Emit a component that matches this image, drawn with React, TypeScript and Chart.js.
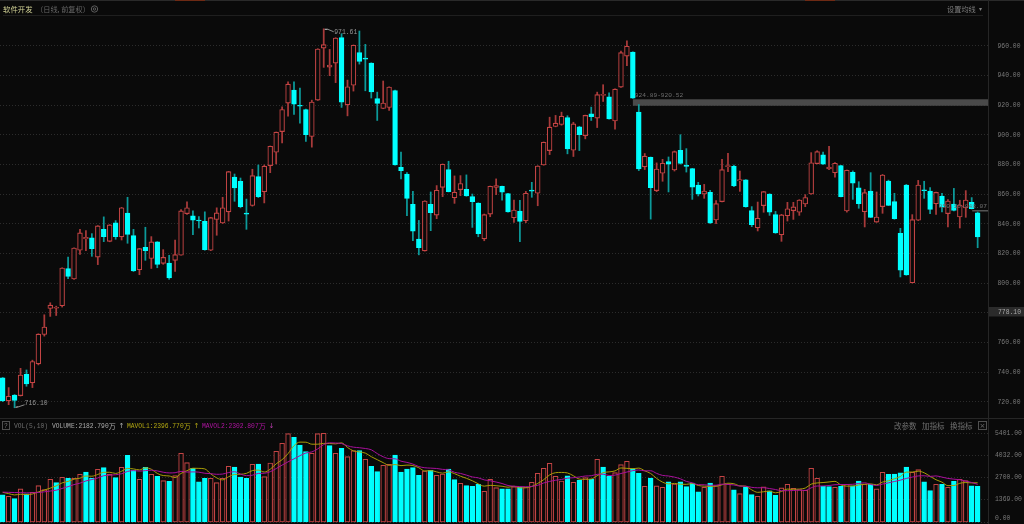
import React, { useEffect, useRef } from "react";
import { Chart, registerables } from "chart.js";

Chart.register(...registerables);

// Daily candles: open / close / high / low
const open = [736.2,720.9,724.7,724.3,738.7,733,745.7,765.5,783,783.2,784.9,809.9,802.9,822.3,829.9,830.6,817.7,836.4,828.3,840.7,831.3,847.3,832.2,809.2,824.3,816.8,827.9,813.5,813.7,815.5,818.9,847,845.5,842.2,841.8,822.3,843,840.7,848.2,871.7,868.8,847,852.5,871.9,861.8,879.4,888.4,902.3,921.5,930.3,919.6,917.2,899,923.5,958.6,945.8,948.5,965.6,920.4,933.6,955.5,951.3,948.5,924.6,917.9,918.6,930,878.2,873.7,853.2,829.8,821.9,853.2,846,864.7,876.7,857.7,863.2,863.4,858.4,854.1,830,846.7,864.7,865.4,860.5,844.2,848.7,842.2,862.4,860.7,879.8,889.5,905.7,907.1,911.8,889.7,905.5,899.6,914.3,911.4,926.7,925.8,909.5,932.3,953.2,955.9,915.4,878.5,885,862.5,874.2,882,876.4,889.7,879,877.3,866.3,860.2,861.3,842.7,855.1,878.7,878.9,869,869.7,849,837.5,852.4,860.2,846.3,832.8,845.6,849,847.9,853.5,860.2,880.7,886.7,877.1,874.6,879.3,848.8,874.8,864.3,848.3,862.2,841.3,851.7,869,855.1,833.7,866.3,800.4,842.5,862.6,862.2,853.7,858.9,847,853.5,844.7,850.8,854.6,847.6];
const close = [720.9,723.8,721.1,738.2,732.2,747.3,765.7,770.5,785.3,783.5,810.3,804.7,823.8,834,831,823.4,838.7,831.5,839.4,831.5,850.9,833,808.3,823.4,822,827.9,812.8,817.5,803.6,819.3,848.8,850.9,842.5,842,822.7,844.3,847.5,850.9,875.3,864.3,851.7,846.6,872.6,858.5,878.9,892.4,901.9,917.2,934.3,920.8,919.4,900.3,922.2,958,960.9,947.2,965.4,922.2,932.5,960.5,949.6,951.1,929.1,921.3,921.5,932.3,879.8,876,857.3,835.2,824,855.5,847.6,862.7,880.3,861.8,861.4,867.3,858.9,855,833.4,846.3,865.4,865.9,861.4,848.1,849.4,841.8,860.7,862.2,879.1,895.1,905.3,908,912.7,890.6,907.5,900.3,913.2,912.3,927.2,927,910.9,930.9,955.5,959.8,924.89,877.1,885.7,864.5,877.1,880.9,880.4,888.8,880.9,878.8,864.9,860.2,862.2,840.7,853.7,876.6,879.3,865.6,869.9,851.7,839.6,843.8,861.8,847.9,833.9,846.1,850.3,851.5,856.2,857.8,881.3,888.8,880.4,878.4,880.9,858.4,876.2,867.6,853.7,861.1,844.5,844.7,873,852.6,843.6,808.8,805.6,842.9,866.3,862.4,849.9,861.3,851.7,855.5,849.2,852.8,856.2,850.3,831.2];
const high = [736.5,729.7,725,742.7,741.6,748.2,766,778.8,786.9,784.6,810.5,817.7,824,836.4,835.5,833.5,838.9,844.8,839.6,842.3,851.2,858,836.4,823.6,837.8,831.5,828.1,822.7,818.9,829.2,849.7,854.9,848.8,845,848.2,844.5,850.9,858,875.5,873.7,871,856.8,876.9,879.8,879.8,892.6,902,919,935.9,935.9,931.6,917.4,923.5,958.2,971.61,957.7,965.6,968.3,937,960.7,970.1,961.1,948.7,928.9,936.4,932.5,930.2,888.4,874.6,862,842.4,855.7,861.6,865.9,880.5,882.3,872.4,872.6,873.1,860.2,854.3,846.7,865.6,870.4,865.6,860.7,856.2,855.9,862,868.1,879.3,895.3,912,913.2,915.4,913,908.6,905.9,913.4,918.8,928.9,933.9,928.5,931.1,956.6,963.4,956.1,920.52,887.5,885.2,881.2,883.6,885.2,889.2,900.2,890.8,877.5,868.1,866.7,862.7,855.7,883.6,887.6,879.8,875.7,869.9,851.7,854.8,862,860.4,848.5,846.5,854.6,854.6,856.4,859.8,888.1,889.4,888.5,892.4,881.4,879.5,876.4,875.8,868.5,863.4,874.6,861.6,873.4,869.6,860.7,837.1,866.7,846.3,869.4,868.8,864.5,861.5,860.7,856.4,864,856,862.5,857.8,848.07];
const low = [720.2,718.2,716.1,724,730.6,729.7,745,764.4,777.7,778.3,784,803.1,802.7,819.5,822,818.2,812.6,828.1,828,829.7,829.2,827,808,805.8,815.5,810,810.5,812.8,802.7,808,818.9,846.4,832.8,837.3,822.3,822,832.4,840.3,842,855.3,850.9,836.4,852,857.8,854.2,874.6,880.5,894.7,912.7,913.8,908,895.6,891.8,923.3,945.6,940,935.3,918.6,912.9,929.6,947.8,929.8,924.9,909.8,917.7,916.5,879.6,870.4,845.6,828.7,819.2,821.7,835.5,843.6,858.4,861.6,853.9,859.1,858.7,837.7,831.4,828.7,844.9,859.8,856,847.9,841,828,840.9,858,852.3,879.6,886.8,905.5,906.6,887.3,885.5,889.5,897.4,909.8,905,922.6,910.7,903.9,932.1,946.7,924.7,876,876.7,843.3,861.8,868.8,861.6,875.7,880.4,875,856.6,858.9,857.3,840.3,840.2,854.9,875.3,865.2,862,851.3,838.2,835.3,847.9,845.8,833.7,828.3,842,843.1,845.8,851.7,860,880.5,880.2,876.6,871.5,858.2,848,856.6,850.6,838,844.3,841.1,847.2,852.4,843.2,804.3,805.4,800.2,842.3,857.3,847,846.5,848.1,838,848.8,837.3,844.5,850.1,824];

// Volume and its two moving averages (万)
const volume = [1663,1583,1442,2025,1723,1824,2226,1985,2608,2407,2728,2668,2668,2909,3050,2668,3211,3311,2909,2708,3331,4055,3170,2608,3331,2909,2789,2527,2487,2829,4175,3613,3271,2447,2668,2668,2407,2668,3392,3351,2748,2668,3512,3532,2768,3593,4296,4778,5361,5140,4678,4276,4175,5361,5381,4638,4175,4477,3975,4336,4336,3814,3392,3070,3452,3512,4075,3050,3231,3311,2849,3110,3150,2849,2929,3231,2588,2366,2226,2186,2306,1884,2608,2105,2025,2025,2165,2125,2125,2427,2969,3271,3572,2789,2507,2809,2427,2567,2708,2608,3814,3351,2789,3010,3492,3693,3251,2969,2186,2688,2206,2125,2447,2326,2447,2165,2386,1844,2125,2386,2226,2789,2326,1964,1743,2125,1683,1583,2145,1904,1643,2085,2306,2065,1985,1944,3271,2668,2186,2165,2125,2186,2306,2206,2507,2326,2306,2025,3030,2909,2929,2990,3351,3030,3191,2447,1924,2306,2306,2125,2487,2608,2527,2206,2182.79];
const mavol1 = [1820,1743,1663,1703,1687,1719,1848,1957,2073,2210,2391,2479,2616,2676,2805,2793,2901,3030,3030,2961,3094,3263,3235,3174,3299,3215,2961,2833,2809,2708,2961,3126,3275,3267,3235,2933,2692,2572,2761,2897,2913,2965,3134,3162,3046,3215,3540,3793,4159,4634,4851,4847,4726,4726,4774,4766,4746,4806,4529,4320,4260,4188,3971,3790,3613,3448,3500,3432,3464,3436,3303,3110,3130,3054,2977,3054,2949,2793,2668,2519,2334,2194,2242,2218,2186,2129,2186,2089,2093,2173,2362,2583,2873,3006,3022,2990,2821,2620,2604,2624,2825,3010,3054,3114,3291,3267,3247,3283,3118,2957,2660,2435,2330,2358,2310,2302,2354,2234,2193,2181,2193,2274,2370,2338,2210,2189,1968,1820,1856,1888,1792,1872,2017,2001,2017,2077,2314,2387,2411,2447,2483,2266,2194,2198,2266,2306,2330,2274,2439,2519,2640,2777,3042,3042,3098,3002,2789,2580,2435,2222,2230,2366,2411,2391,2396.77];
const mavol2 = [1830,1820,1810,1800,1790,1790,1810,1850,1900,1949,2055,2164,2287,2375,2508,2592,2690,2823,2853,2883,2944,3082,3133,3102,3130,3155,3112,3034,2992,3004,3088,3044,3054,3038,2972,2947,2909,2924,3014,3066,2923,2829,2853,2962,2972,3064,3253,3464,3661,3840,4033,4194,4260,4443,4704,4809,4797,4766,4628,4547,4513,4467,4389,4160,3967,3854,3844,3702,3627,3525,3376,3305,3281,3259,3207,3179,3030,2962,2861,2748,2694,2572,2518,2443,2353,2232,2190,2166,2156,2180,2246,2385,2481,2550,2598,2676,2702,2747,2805,2823,2908,2916,2837,2859,2958,3046,3129,3169,3116,3124,2964,2841,2807,2738,2634,2481,2395,2282,2276,2246,2248,2314,2302,2266,2196,2191,2121,2095,2097,2049,1991,1920,1919,1929,1953,1935,2093,2202,2206,2232,2280,2290,2291,2305,2357,2395,2298,2234,2319,2393,2473,2554,2658,2741,2809,2821,2783,2811,2739,2660,2616,2578,2496,2413,2302.807];

const priceTickHidden = [780];
const volTicks = [0, 1369, 2700, 4032, 5401];
const hiLabel = "971.61";
const loLabel = "716.10";
const gapLabelA = "924.89-920.52";
const gapLabelB = "850.10-848.07";
const lastLabel = "778.10";

const BG = "#0a0a0a";
const RED = "#c44444";
const REDW = "#a83a3a";
const CYAN = "#00ffff";
const CYANW = "#0c9a9a";
const GRID = "#2c2c2c";
const AXISTXT = "#7a7a7a";
const LINE = "#1f1f1f";
const MONO = '"Liberation Mono","DejaVu Sans Mono",monospace';
const CJK = '"Noto Sans CJK SC"';

const idx = open.map((_, i) => i);
const xMin = -0.454;
const xMax = 165.74;

function txt(ctx: CanvasRenderingContext2D, s: string, x: number, y: number, color: string, font: string, align: CanvasTextAlign = "left") {
  ctx.font = font;
  ctx.fillStyle = color;
  ctx.textAlign = align;
  ctx.textBaseline = "middle";
  ctx.fillText(s, x, y);
  return ctx.measureText(s).width;
}

const fitAxis = (s: any) => {
  s.width = 36;
  s.paddingTop = 0;
  s.paddingBottom = 0;
};

const topPlugin = {
  id: "topDeco",
  beforeDraw(chart: any) {
    const c = chart.ctx as CanvasRenderingContext2D;
    c.save();
    c.fillStyle = BG;
    c.fillRect(0, 0, chart.width, chart.height);
    c.fillStyle = "#2a2a2a";
    c.fillRect(0, 0, 1024, 1);
    c.fillStyle = "#6e2a14";
    c.fillRect(175, 0, 30, 1);
    c.fillRect(805, 0, 30, 1);
    c.fillStyle = LINE;
    c.fillRect(3, 15, 980, 1);
    c.restore();
  },
  beforeDatasetsDraw(chart: any) {
    const c = chart.ctx as CanvasRenderingContext2D;
    const { x, y } = chart.scales;
    const right = chart.chartArea.right;
    c.save();
    c.fillStyle = "#4a4a4a";
    const a1 = y.getPixelForValue(close[106]);
    const a2 = y.getPixelForValue(high[107]);
    c.fillRect(x.getPixelForValue(106), a1 + 1.2, right - x.getPixelForValue(106), a2 - a1);
    c.fillStyle = "#555";
    const b1 = y.getPixelForValue(low[163]);
    const b2 = y.getPixelForValue(high[164]);
    c.fillRect(x.getPixelForValue(163) + 0.5, b1 + 1, right - x.getPixelForValue(163), Math.max(1, b2 - b1 - 1.5));
    c.restore();
  },
  afterDraw(chart: any) {
    const c = chart.ctx as CanvasRenderingContext2D;
    const { x, y } = chart.scales;
    c.save();
    c.fillStyle = "#262626";
    c.fillRect(988, 0, 1, 418);
    txt(c, "软件开发", 3, 9, "#d2d296", `7.4px ${CJK}`);
    txt(c, "（日线, 前复权）", 36, 9, "#666666", `7.2px ${CJK}`);
    c.strokeStyle = "#5c5c5c";
    c.lineWidth = 1;
    c.beginPath();
    c.arc(94.5, 9, 3.2, 0, Math.PI * 2);
    c.stroke();
    c.beginPath();
    c.arc(94.5, 9, 1.2, 0, Math.PI * 2);
    c.stroke();
    txt(c, "设置均线", 947, 9, "#7e7e7e", `7.2px ${CJK}`);
    txt(c, "▾", 979, 9, "#7e7e7e", `6px "DejaVu Sans"`);

    // high / low markers follow the scales
    const hx = x.getPixelForValue(54);
    const hy = y.getPixelForValue(high[54]);
    c.strokeStyle = "#d0d0d0";
    c.beginPath();
    c.moveTo(hx + 1, hy + 0.5);
    c.lineTo(hx + 4, hy + 0.5);
    c.stroke();
    c.strokeStyle = "#8a8a8a";
    c.beginPath();
    c.moveTo(hx + 4, hy + 0.5);
    c.lineTo(hx + 10, hy + 3);
    c.stroke();
    txt(c, hiLabel, hx + 10.5, hy + 3.5, "#969696", `6.4px ${MONO}`);

    const lx = x.getPixelForValue(2);
    const ly = y.getPixelForValue(low[2]);
    c.strokeStyle = "#d0d0d0";
    c.beginPath();
    c.moveTo(lx + 1, ly - 0.5);
    c.lineTo(lx + 4, ly - 1);
    c.stroke();
    c.strokeStyle = "#8a8a8a";
    c.beginPath();
    c.moveTo(lx + 4, ly - 1);
    c.lineTo(lx + 10, ly - 3);
    c.stroke();
    txt(c, loLabel, lx + 10, ly - 4, "#969696", `6.4px ${MONO}`);

    txt(c, gapLabelA, x.getPixelForValue(106) + 2, y.getPixelForValue(close[106]) - 3, "#6e6e6e", `6.2px ${MONO}`);
    txt(c, gapLabelB, 987, y.getPixelForValue(low[163]) - 3, "#727272", `6.2px ${MONO}`, "right");

    c.fillStyle = "#2b2b2b";
    c.fillRect(989, 307, 35, 9.5);
    txt(c, lastLabel, 998, 312, "#a8a8a8", `6.4px ${MONO}`);
    c.restore();
  },
};

const volPlugin = {
  id: "volDeco",
  beforeDraw(chart: any) {
    const c = chart.ctx as CanvasRenderingContext2D;
    c.save();
    c.fillStyle = BG;
    c.fillRect(0, 0, chart.width, chart.height);
    c.restore();
  },
  afterDraw(chart: any) {
    const c = chart.ctx as CanvasRenderingContext2D;
    c.save();
    c.fillStyle = "#262626";
    c.fillRect(0, 0, 1024, 1);
    c.fillRect(988, 0, 1, 106);
    const ty = 8;
    const num = `6.3px ${MONO}`;
    const cjk = `7px ${CJK}`;
    c.strokeStyle = "#505050";
    c.lineWidth = 1;
    c.strokeRect(2.5, 3.5, 7, 8);
    txt(c, "?", 6, ty, "#777", num, "center");
    txt(c, "VOL(5,10)", 14, ty, "#6e6e6e", num);
    let w = txt(c, `VOLUME:${volume[164].toFixed(3)}`, 52, ty, "#aaaaaa", num);
    txt(c, "万", 52 + w, ty, "#aaaaaa", cjk);
    txt(c, "↑", 118.5, ty, "#b5b5b5", `7px "DejaVu Sans"`);
    w = txt(c, `MAVOL1:${mavol1[164].toFixed(3)}`, 127, ty, "#b0a612", num);
    txt(c, "万", 127 + w, ty, "#b0a612", cjk);
    txt(c, "↑", 193.5, ty, "#b5a814", `7px "DejaVu Sans"`);
    w = txt(c, `MAVOL2:${mavol2[164].toFixed(3)}`, 202, ty, "#b014a2", num);
    txt(c, "万", 202 + w, ty, "#b014a2", cjk);
    txt(c, "↓", 268.5, ty, "#b43ca8", `7px "DejaVu Sans"`);
    txt(c, "改参数", 894, ty, "#707070", `7.5px ${CJK}`);
    txt(c, "加指标", 922, ty, "#707070", `7.5px ${CJK}`);
    txt(c, "换指标", 950, ty, "#707070", `7.5px ${CJK}`);
    c.strokeStyle = "#505050";
    c.strokeRect(978.5, 3.5, 8, 8);
    txt(c, "×", 982.5, ty, "#707070", `7px "DejaVu Sans"`, "center");
    txt(c, "0.00", 995, 100, AXISTXT, `6.4px ${MONO}`);
    c.restore();
  },
};

export default function App() {
  const topRef = useRef<HTMLCanvasElement>(null);
  const volRef = useRef<HTMLCanvasElement>(null);

  useEffect(() => {
    const isUp = (i: number) => close[i] >= open[i];
    const price = new Chart(topRef.current as HTMLCanvasElement, {
      type: "bar",
      data: {
        datasets: [
          {
            data: idx.map((i) => ({ x: i, y: [low[i], high[i]] })),
            backgroundColor: idx.map((i) => (isUp(i) ? REDW : CYANW)),
            borderWidth: 0,
            barThickness: 1.1,
            grouped: false,
            order: 2,
          },
          {
            data: idx.map((i) => ({ x: i, y: [open[i], close[i]] })),
            backgroundColor: idx.map((i) => (isUp(i) ? BG : CYAN)),
            borderColor: idx.map((i) => (isUp(i) ? RED : CYAN)),
            borderWidth: 1.1,
            borderSkipped: false,
            barThickness: 4.8,
            minBarLength: 1,
            grouped: false,
            order: 1,
          },
        ] as any,
      },
      options: {
        responsive: false,
        animation: false,
        devicePixelRatio: 1,
        layout: { padding: { top: 17, left: 0, right: 0, bottom: 0 } },
        plugins: { legend: { display: false }, tooltip: { enabled: false } },
        events: [],
        scales: {
          x: { type: "linear", display: false, offset: false, min: xMin, max: xMax, grid: { display: false } },
          y: {
            position: "right",
            min: 709.2,
            max: 979.55,
            afterFit: fitAxis,
            grid: { color: GRID, drawTicks: false },
            border: { display: false, dash: [1, 2] },
            ticks: {
              stepSize: 20,
              includeBounds: false,
              padding: 9.5,
              color: AXISTXT,
              font: { family: "Liberation Mono", size: 6.4 },
              callback: (v: any) => (priceTickHidden.includes(v) ? "" : Number(v).toFixed(2)),
            },
          },
        },
      } as any,
      plugins: [topPlugin],
    });

    const volUp = (i: number) => i > 0 && close[i] >= close[i - 1];
    const vol = new Chart(volRef.current as HTMLCanvasElement, {
      type: "bar",
      data: {
        datasets: [
          {
            type: "line",
            data: idx.map((i) => ({ x: i, y: mavol1[i] })),
            borderColor: "#a89c06",
            borderWidth: 1,
            pointRadius: 0,
            cubicInterpolationMode: "monotone",
            order: 1,
          },
          {
            type: "line",
            data: idx.map((i) => ({ x: i, y: mavol2[i] })),
            borderColor: "#a80f9c",
            borderWidth: 1,
            pointRadius: 0,
            cubicInterpolationMode: "monotone",
            order: 0,
          },
          {
            type: "bar",
            data: idx.map((i) => ({ x: i, y: volume[i] })),
            backgroundColor: idx.map((i) => (volUp(i) ? BG : CYAN)),
            borderColor: idx.map((i) => (volUp(i) ? RED : CYAN)),
            borderWidth: 1.1,
            borderSkipped: false,
            barThickness: 4.8,
            grouped: false,
            order: 3,
          },
        ] as any,
      },
      options: {
        responsive: false,
        animation: false,
        devicePixelRatio: 1,
        layout: { padding: 0 },
        plugins: { legend: { display: false }, tooltip: { enabled: false } },
        events: [],
        scales: {
          x: { type: "linear", display: false, offset: false, min: xMin, max: xMax, grid: { display: false } },
          y: {
            position: "right",
            min: -91,
            max: 6307,
            afterFit: fitAxis,
            afterBuildTicks: (s: any) => { s.ticks = volTicks.map((v) => ({ value: v })); },
            grid: { color: GRID, drawTicks: false },
            border: { display: false, dash: [1, 2] },
            ticks: {
              padding: 7,
              color: AXISTXT,
              font: { family: "Liberation Mono", size: 6.4 },
              callback: (v: any) => (v === 0 ? "" : Number(v).toFixed(2)),
            },
          },
        },
      } as any,
      plugins: [volPlugin],
    });

    return () => {
      price.destroy();
      vol.destroy();
    };
  }, []);

  return (
    <div style={{ position: "absolute", left: 0, top: 0, width: 1024, height: 524, background: BG, overflow: "hidden" }}>
      <canvas ref={topRef} width={1024} height={418} style={{ position: "absolute", left: 0, top: 0, display: "block" }} />
      <canvas ref={volRef} width={1024} height={106} style={{ position: "absolute", left: 0, top: 418, display: "block" }} />
    </div>
  );
}
